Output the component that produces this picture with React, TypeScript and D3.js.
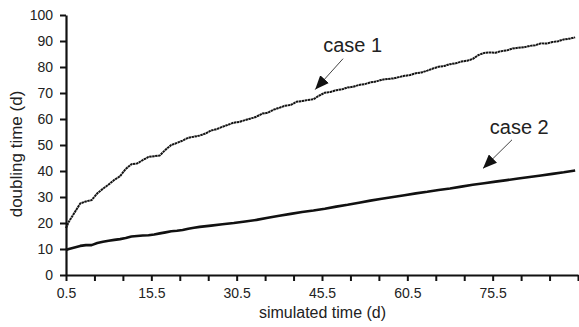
import React, { useEffect, useRef } from "react";
import * as d3 from "d3";

const case1Times = [0.5,1,2,3,4,5,6,7,8,9,10,11,12,13,14,15,16,17,18,19,20,21,22,23,24,25,26,27,28,29,30,31,32,33,34,35,36,37,38,39,40,41,42,43,44,45,46,47,48,49,50,51,52,53,54,55,56,57,58,59,60,61,62,63,64,65,66,67,68,69,70,71,72,73,74,75,76,77,78,79,80,81,82,83,84,85,86,87,88,89,90];
const case1Values = [18,20.5,24,27.5,28.3,28.8,31.4,33.2,34.8,36.6,38,40.8,42.6,42.9,44.2,45.4,45.7,46,48.2,50,50.8,51.7,52.8,53.2,53.6,54.4,55.6,56.1,57,57.8,58.6,58.9,59.6,60.2,60.9,62.1,62.4,63.6,64.3,65.1,65.4,66.6,66.9,67.3,67.6,69,70.1,70.4,71.1,71.4,72.1,72.4,73.1,73.4,74.1,74.4,75.1,75.4,75.6,76.1,76.6,76.9,77.6,77.9,78.6,79.4,80.1,80.4,81.1,81.4,82.1,82.4,83.1,84.6,85.4,85.6,85.5,86.1,86.4,87.1,87.4,87.6,88.1,88.4,89.1,89,89.6,89.9,90.6,90.9,91.4];

const case2Times = [0.5,1,2,3,4,5,6,7,8,9,10,11,12,13,14,15,16,17,18,19,20,21,22,23,24,26,28,30,32,34,36,38,40,42,44,46,48,50,52,54,56,58,60,62,64,66,68,70,72,74,76,78,80,82,84,86,88,90];
const case2Values = [9.6,10,10.6,11.2,11.5,11.5,12.3,12.8,13.2,13.5,13.8,14.2,14.8,15,15.2,15.3,15.6,16,16.4,16.8,17,17.3,17.8,18.2,18.5,19,19.5,20,20.6,21.2,22,22.8,23.5,24.2,24.8,25.5,26.3,27,27.8,28.6,29.3,30,30.7,31.4,32,32.7,33.3,34,34.7,35.3,35.9,36.5,37.1,37.7,38.3,38.9,39.5,40.2];

const xTicks = d3.range(0.5, 90.6, 5);
const xLabelTicks = [0.5, 15.5, 30.5, 45.5, 60.5, 75.5];
const yTicks = d3.range(0, 101, 10);

const annotations = [
  { label: "case 1", tx: 45.7, ty: 85.8, x1: 49.2, y1: 83.2, x2: 44.3, y2: 71.3 },
  { label: "case 2", tx: 75.0, ty: 54.2, x1: 78.9, y1: 52.0, x2: 73.8, y2: 41.0 },
];

const W = 579, H = 327;
const M = { left: 66, top: 15, right: 1, bottom: 52 };

export default function App() {
  const ref = useRef<SVGSVGElement>(null);
  const x = d3.scaleLinear().domain([0.5, 90.5]).range([M.left, W - M.right]);
  const y = d3.scaleLinear().domain([0, 100]).range([H - M.bottom, M.top]);

  useEffect(() => {
    const svg = d3.select(ref.current);
    const gx = svg.select<SVGGElement>("g.xaxis");
    gx.call(
      d3.axisBottom(x)
        .tickValues(xTicks)
        .tickSize(6)
        .tickSizeOuter(0)
        .tickPadding(7)
        .tickFormat((d: any) => (xLabelTicks.includes(+d) ? d3.format(".1f")(+d) : ""))
    );
    const gy = svg.select<SVGGElement>("g.yaxis");
    gy.call(d3.axisLeft(y).tickValues(yTicks).tickSize(6).tickSizeOuter(0).tickPadding(7));
    [gx, gy].forEach((g) => {
      g.selectAll("path.domain").attr("stroke", "#111").attr("stroke-width", 2.2);
      g.selectAll(".tick line").attr("stroke", "#111").attr("stroke-width", 2);
      g.selectAll(".tick text")
        .attr("fill", "#222")
        .style("font-family", "Liberation Sans, Arial, sans-serif")
        .style("font-size", "14px");
      g.attr("font-family", null).attr("font-size", null);
    });
  }, []);

  const line1 = d3.line<number>().x((_, i) => x(case1Times[i])).y((d) => y(d));
  const line2 = d3.line<number>().x((_, i) => x(case2Times[i])).y((d) => y(d));

  const font = "Liberation Sans, Arial, sans-serif";

  return (
    <svg ref={ref} width={W} height={H} style={{ position: "absolute", left: 0, top: 0, background: "#fff" }}>
      <defs>
        <marker id="arrow" viewBox="0 0 12 10" refX="12" refY="5" markerWidth="14" markerHeight="12" markerUnits="userSpaceOnUse" orient="auto">
          <path d="M0,0 L12,5 L0,10 Z" fill="#111" />
        </marker>
      </defs>
      <path d={line1(case1Values) || ""} fill="none" stroke="#141414" strokeWidth={2} strokeDasharray="2.5 0.5" strokeLinejoin="round" />
      <path d={line2(case2Values) || ""} fill="none" stroke="#111" strokeWidth={2.6} strokeLinejoin="round" />
      <g className="xaxis" transform={`translate(0,${H - M.bottom})`} />
      <g className="yaxis" transform={`translate(${M.left},0)`} />
      {annotations.map((a) => (
        <g key={a.label}>
          <text x={x(a.tx)} y={y(a.ty)} fontFamily={font} fontSize={20} fill="#222">{a.label}</text>
          <line x1={x(a.x1)} y1={y(a.y1)} x2={x(a.x2)} y2={y(a.y2)} stroke="#444" strokeWidth={1} markerEnd="url(#arrow)" />
        </g>
      ))}
      <text x={(M.left + W) / 2} y={318} textAnchor="middle" fontFamily={font} fontSize={16} fill="#222">simulated time (d)</text>
      <text transform={`translate(22,${(M.top + H - M.bottom) / 2 + 9}) rotate(-90)`} textAnchor="middle" fontFamily={font} fontSize={17} fill="#222">doubling time (d)</text>
    </svg>
  );
}
